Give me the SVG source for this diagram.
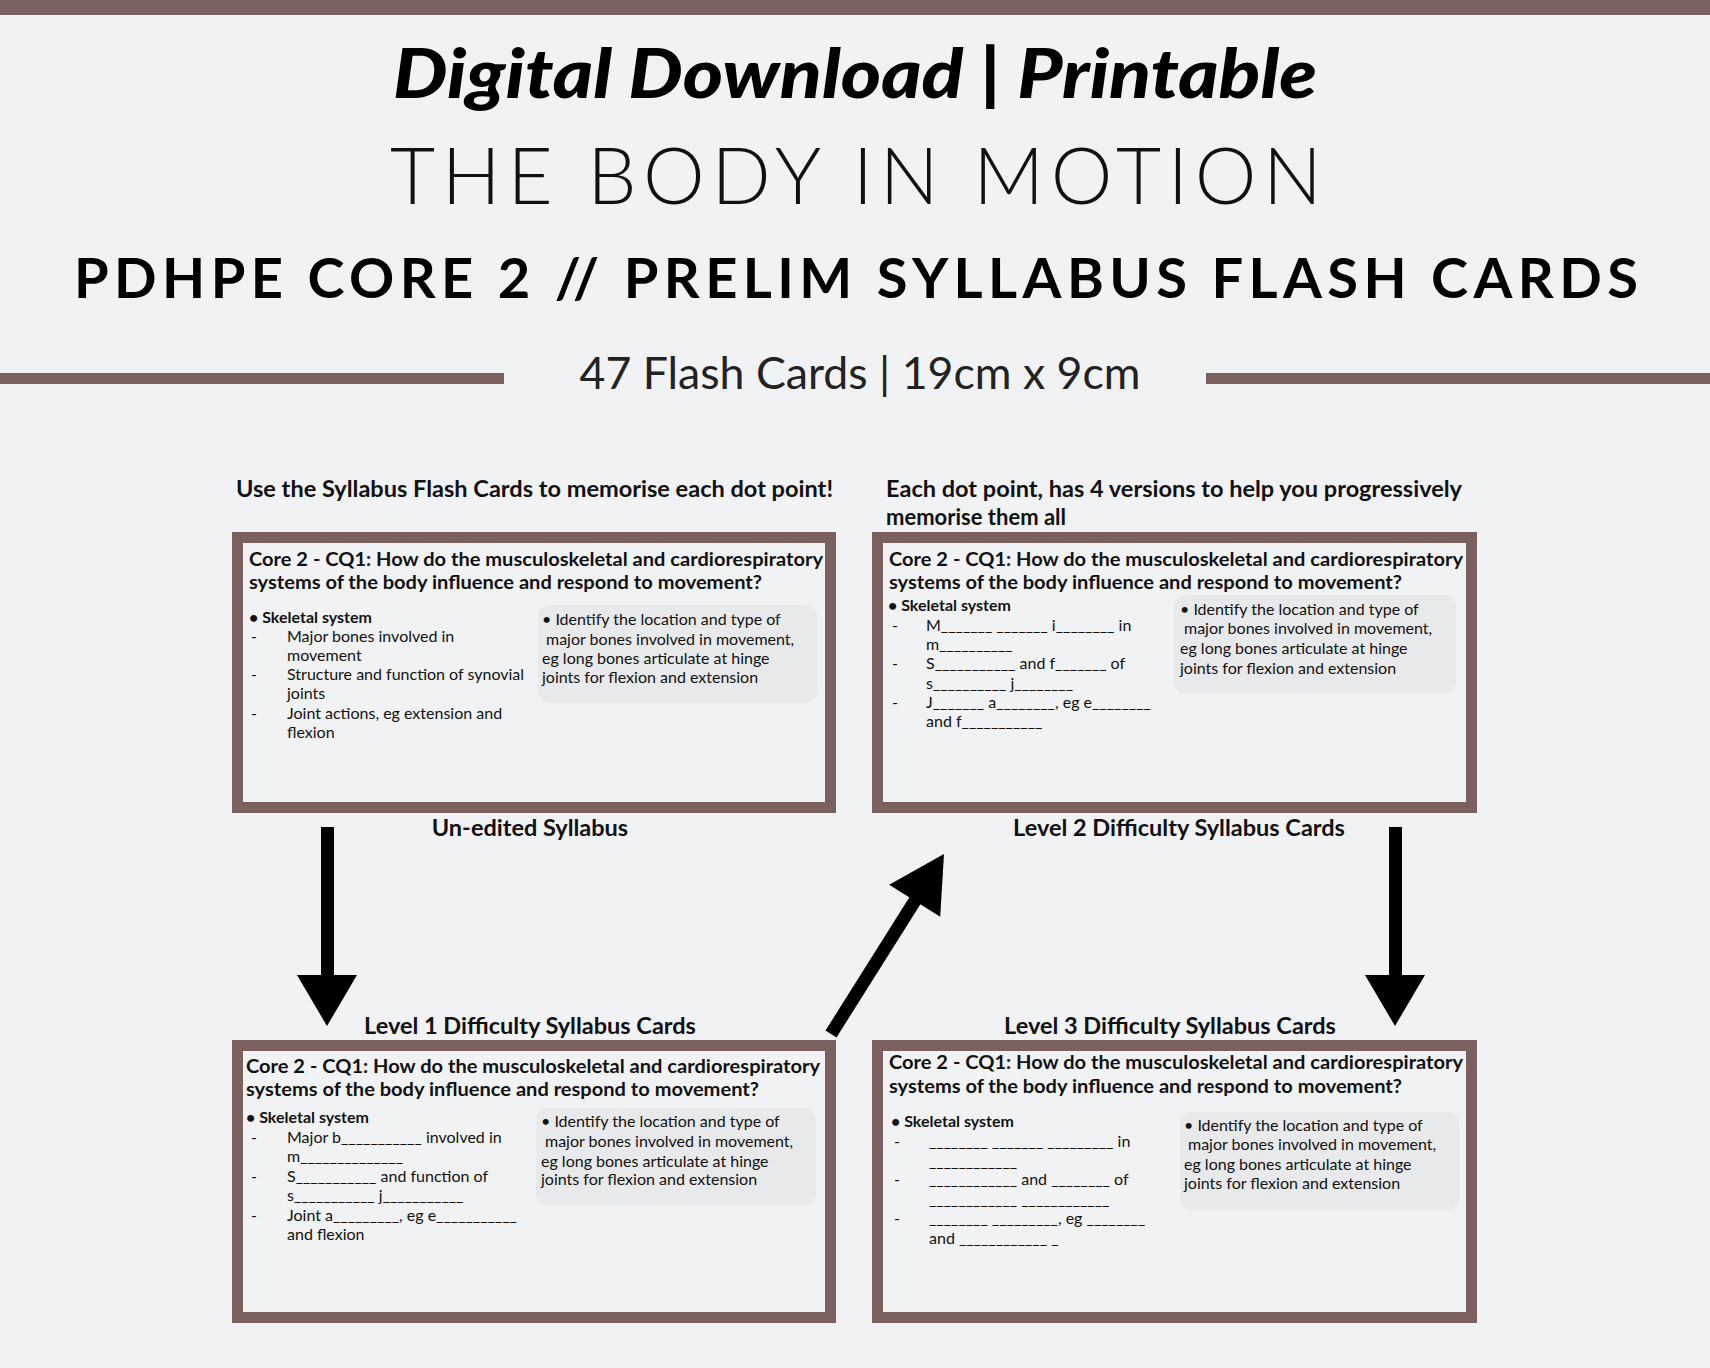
<svg xmlns="http://www.w3.org/2000/svg" width="1710" height="1368" viewBox="0 0 1710 1368">
<style>
.c{font-family:Lato,"Open Sans",sans-serif;fill:#111}
.t{font-size:18px;font-weight:bold}
.s{font-size:16px;font-weight:bold}
.b{font-size:16px}
.cap{font-family:Lato,"Open Sans",sans-serif;font-size:22px;font-weight:bold;fill:#111}
.lab{font-size:23.5px}
.card{fill:#f1f2f4;stroke:#7a605f;stroke-width:11}
.box{fill:#e8e9eb}
</style>
<rect width="1710" height="1368" fill="#f1f2f4"/>
<rect width="1710" height="15" fill="#7a605f"/>
<g id="header">
<text x="855" y="98" text-anchor="middle" font-family="Lato,sans-serif" font-size="68" font-weight="900" font-style="italic" fill="#000" textLength="924" lengthAdjust="spacingAndGlyphs">Digital Download | Printable</text>
<text x="856" y="204" text-anchor="middle" font-family="Lato,sans-serif" font-size="78" font-weight="300" fill="#111" textLength="932" lengthAdjust="spacing">THE BODY IN MOTION</text>
<text x="856" y="298" text-anchor="middle" font-family="Lato,sans-serif" font-size="56" font-weight="bold" fill="#000" textLength="1564" lengthAdjust="spacing">PDHPE CORE 2 // PRELIM SYLLABUS FLASH CARDS</text>
<rect x="0" y="373" width="504" height="11" fill="#7a605f"/>
<rect x="1206" y="373" width="504" height="11" fill="#7a605f"/>
<text x="860" y="389" text-anchor="middle" font-family="Lato,sans-serif" font-size="44" fill="#222" textLength="561" lengthAdjust="spacingAndGlyphs">47 Flash Cards | 19cm x 9cm</text>
</g>
<g id="captions">
<text class="cap" x="236" y="497" textLength="597" lengthAdjust="spacingAndGlyphs">Use the Syllabus Flash Cards to memorise each dot point!</text>
<text class="cap" x="886" y="497" textLength="576" lengthAdjust="spacingAndGlyphs">Each dot point, has 4 versions to help you progressively</text>
<text class="cap" x="886" y="525">memorise them all</text>
<text class="cap lab" x="530" y="836" text-anchor="middle">Un-edited Syllabus</text>
<text class="cap lab" x="1179" y="836" text-anchor="middle">Level 2 Difficulty Syllabus Cards</text>
<text class="cap lab" x="530" y="1034" text-anchor="middle">Level 1 Difficulty Syllabus Cards</text>
<text class="cap lab" x="1170" y="1034" text-anchor="middle">Level 3 Difficulty Syllabus Cards</text>
</g>
<g id="card-unedited">
<rect class="card" x="237.5" y="537.5" width="593" height="270"/>
<text class="c t" x="249" y="566" textLength="574" lengthAdjust="spacingAndGlyphs">Core 2 - CQ1: How do the musculoskeletal and cardiorespiratory</text>
<text class="c t" x="249" y="589" textLength="513" lengthAdjust="spacingAndGlyphs">systems of the body influence and respond to movement?</text>
<text class="c s" x="249" y="623">• Skeletal system</text>
<g class="c b">
<text x="251" y="642">-</text><text x="287" y="642">Major bones involved in</text>
<text x="287" y="661">movement</text>
<text x="251" y="680">-</text><text x="287" y="680">Structure and function of synovial</text>
<text x="287" y="699">joints</text>
<text x="251" y="719">-</text><text x="287" y="719">Joint actions, eg extension and</text>
<text x="287" y="738">flexion</text>
</g>
<rect class="box" x="538" y="605" width="279" height="98" rx="12"/>
<g class="c b">
<text x="542" y="625">• Identify the location and type of</text>
<text x="546" y="645">major bones involved in movement,</text>
<text x="542" y="664">eg long bones articulate at hinge</text>
<text x="542" y="683">joints for flexion and extension</text>
</g>
</g>
<g id="card-level2">
<rect class="card" x="877.5" y="537.5" width="594" height="270"/>
<text class="c t" x="889" y="566" textLength="574" lengthAdjust="spacingAndGlyphs">Core 2 - CQ1: How do the musculoskeletal and cardiorespiratory</text>
<text class="c t" x="889" y="589" textLength="513" lengthAdjust="spacingAndGlyphs">systems of the body influence and respond to movement?</text>
<text class="c s" x="888" y="611">• Skeletal system</text>
<g class="c b">
<text x="892" y="631">-</text><text x="926" y="631">M_______ _______ i________ in</text>
<text x="926" y="650">m__________</text>
<text x="892" y="669">-</text><text x="926" y="669">S___________ and f_______ of</text>
<text x="926" y="689">s__________ j________</text>
<text x="892" y="708">-</text><text x="926" y="708">J_______ a________, eg e________</text>
<text x="926" y="727">and f___________</text>
</g>
<rect class="box" x="1174" y="595" width="282" height="99" rx="12"/>
<g class="c b">
<text x="1180" y="615">• Identify the location and type of</text>
<text x="1184" y="634">major bones involved in movement,</text>
<text x="1180" y="654">eg long bones articulate at hinge</text>
<text x="1180" y="674">joints for flexion and extension</text>
</g>
</g>
<g id="card-level1">
<rect class="card" x="237.5" y="1045.5" width="593" height="272"/>
<text class="c t" x="246" y="1073" textLength="574" lengthAdjust="spacingAndGlyphs">Core 2 - CQ1: How do the musculoskeletal and cardiorespiratory</text>
<text class="c t" x="246" y="1096" textLength="513" lengthAdjust="spacingAndGlyphs">systems of the body influence and respond to movement?</text>
<text class="c s" x="246" y="1123">• Skeletal system</text>
<g class="c b">
<text x="251" y="1143">-</text><text x="287" y="1143">Major b___________ involved in</text>
<text x="287" y="1162">m______________</text>
<text x="251" y="1182">-</text><text x="287" y="1182">S___________ and function of</text>
<text x="287" y="1201">s___________ j___________</text>
<text x="251" y="1221">-</text><text x="287" y="1221">Joint a_________, eg e___________</text>
<text x="287" y="1240">and flexion</text>
</g>
<rect class="box" x="536" y="1108" width="280" height="98" rx="12"/>
<g class="c b">
<text x="541" y="1127">• Identify the location and type of</text>
<text x="545" y="1147">major bones involved in movement,</text>
<text x="541" y="1167">eg long bones articulate at hinge</text>
<text x="541" y="1185">joints for flexion and extension</text>
</g>
</g>
<g id="card-level3">
<rect class="card" x="877.5" y="1045.5" width="594" height="272"/>
<text class="c t" x="889" y="1069" textLength="574" lengthAdjust="spacingAndGlyphs">Core 2 - CQ1: How do the musculoskeletal and cardiorespiratory</text>
<text class="c t" x="889" y="1093" textLength="513" lengthAdjust="spacingAndGlyphs">systems of the body influence and respond to movement?</text>
<text class="c s" x="891" y="1127">• Skeletal system</text>
<g class="c b">
<text x="894" y="1147">-</text><text x="929" y="1147">________ _______ _________ in</text>
<text x="929" y="1167">____________</text>
<text x="894" y="1185">-</text><text x="929" y="1185">____________ and ________ of</text>
<text x="929" y="1205">____________ ____________</text>
<text x="894" y="1224">-</text><text x="929" y="1224">________ _________, eg ________</text>
<text x="929" y="1244">and ____________ _</text>
</g>
<rect class="box" x="1180" y="1112" width="279" height="98" rx="12"/>
<g class="c b">
<text x="1184" y="1131">• Identify the location and type of</text>
<text x="1188" y="1150">major bones involved in movement,</text>
<text x="1184" y="1170">eg long bones articulate at hinge</text>
<text x="1184" y="1189">joints for flexion and extension</text>
</g>
</g>
<g id="connectors" fill="#000" stroke="none">
<rect x="321" y="827" width="13" height="150"/>
<polygon points="297,975 357,975 327,1026"/>
<rect x="1389" y="827" width="13" height="150"/>
<polygon points="1365,975 1425,975 1395,1026"/>
<line x1="831" y1="1034" x2="916" y2="899" stroke="#000" stroke-width="13"/>
<polygon points="944,854 940.2,916.7 889.2,884.7"/>
</g>
</svg>
